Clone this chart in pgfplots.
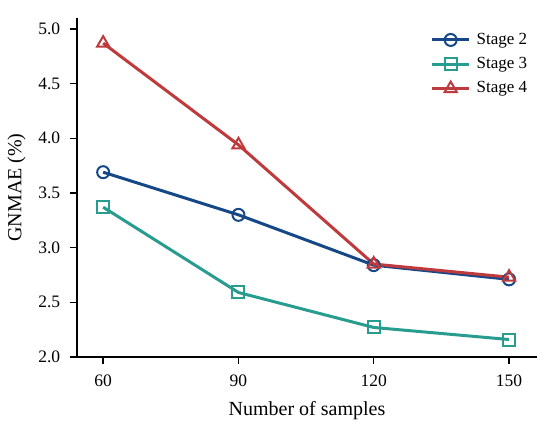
\documentclass[border=0pt]{standalone}
\usepackage{fontspec}
\setmainfont{Liberation Serif}
\usepackage{pgfplots}
\pgfplotsset{compat=1.18}
\definecolor{cblue}{RGB}{22,72,135}
\definecolor{cteal}{RGB}{40,156,142}
\definecolor{cred}{RGB}{190,58,60}
\begin{document}
\fontsize{17}{20}\selectfont
\begin{tikzpicture}
\useasboundingbox (-77pt,-67pt) rectangle (473pt,357pt);
\begin{axis}[
  at={(0pt,0pt)}, anchor=origin,
  scale only axis,
  width=460pt, height=339pt,
  xmin=54.2, xmax=156.2,
  ymin=2.0, ymax=5.1,
  axis x line*=bottom, axis y line*=left,
  axis line style={line width=1.4pt, -},
  tick align=outside,
  major tick length=7pt,
  tick style={line width=1.4pt, black},
  xtick={60,90,120,150},
  ytick={2.0,2.5,3.0,3.5,4.0,4.5,5.0},
  /pgf/number format/assume math mode=true,
  ticklabel style={font=\fontsize{17.5}{20}\selectfont},
  xticklabel style={yshift=-5pt},
  yticklabel style={xshift=-4pt, /pgf/number format/fixed, /pgf/number format/fixed zerofill, /pgf/number format/precision=1},
  xlabel={Number of samples},
  ylabel={GNMAE (\%)},
  label style={font=\fontsize{20}{24}\selectfont},
  xlabel style={yshift=-3pt},
  ylabel style={yshift=1pt},
  legend style={draw=none, fill=none, at={(0.99,0.968)}, anchor=north east,
    font=\fontsize{17}{20}\selectfont, row sep=6.5pt},
  legend cell align=left,
  legend image code/.code={
    \draw[#1, mark=none] (0pt,0pt) -- (37pt,0pt);
    \draw[#1, only marks] plot coordinates {(18.5pt,0pt)};
    \path (41pt,0pt);
  },
]
\addplot[cblue, line width=3pt, mark=o, mark size=6pt, mark options={fill=white, line width=2pt, solid}]
  coordinates {(60,3.69) (90,3.30) (120,2.84) (150,2.71)};
\addlegendentry{Stage 2}
\addplot[cteal, line width=3pt, mark=square, mark size=6pt, mark options={fill=white, line width=2pt, solid}]
  coordinates {(60,3.37) (90,2.59) (120,2.27) (150,2.16)};
\addlegendentry{Stage 3}
\addplot[cred, line width=3pt, mark=triangle, mark size=7pt, mark options={fill=white, line width=2pt, solid}]
  coordinates {(60,4.87) (90,3.94) (120,2.85) (150,2.73)};
\addlegendentry{Stage 4}
\end{axis}
\end{tikzpicture}
\end{document}
